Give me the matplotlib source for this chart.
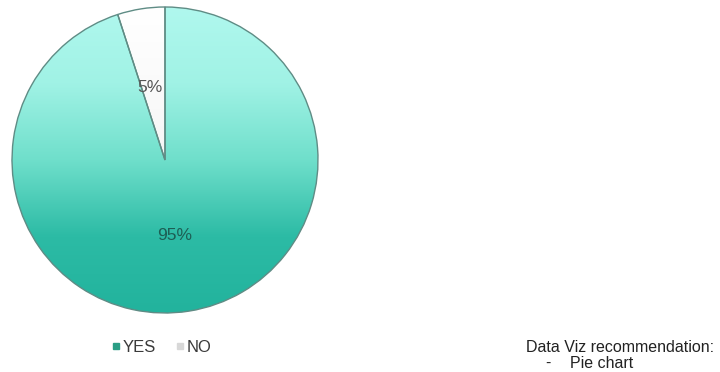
"""Survey answer share as a gradient-filled pie."""

import matplotlib

matplotlib.use("Agg", force=True)
import matplotlib.pyplot as plt
import numpy as np
from matplotlib.colors import LinearSegmentedColormap
from matplotlib.lines import Line2D

labels = ["YES", "NO"]
shares = [95, 5]
pct_labels = ["95%", "5%"]
note_title = "Data Viz recommendation:"
note_items = ["Pie chart"]

plt.rcParams["font.family"] = ["Liberation Sans", "DejaVu Sans"]

fig = plt.figure(figsize=(7.2, 3.72), dpi=100)
ax = fig.add_axes([0, 0, 1, 1])

cx, cy, r = 165, 212, 153
wedges, _ = ax.pie(
    shares,
    startangle=90,
    counterclock=False,
    center=(cx, cy),
    radius=r,
    frame=True,
    wedgeprops=dict(edgecolor="#5f8c85", linewidth=1.0),
)
ax.set_xlim(0, 720)
ax.set_ylim(0, 372)
ax.set_aspect("equal")
ax.axis("off")

# vertical gradients clipped to each wedge
grad = np.linspace(0, 1, 256).reshape(-1, 1)
fills = [
    LinearSegmentedColormap.from_list("yes", ["#b0f8ee", "#a0f2e5", "#6fdfcb", "#2cbba5", "#22b39d"]),
    LinearSegmentedColormap.from_list("no", ["#ffffff", "#f6f6f6", "#e8e8e8"]),
]
ext = (cx - r, cx + r, cy - r, cy + r)
for w, cmap in zip(wedges, fills):
    w.set_facecolor("none")
    im = ax.imshow(grad, cmap=cmap, extent=ext, origin="upper", aspect="auto", zorder=0.5)
    im.set_clip_path(w)
    w.set_zorder(1)

ax.text(175, 372 - 235, pct_labels[0], ha="center", va="center",
        fontsize=12.5, color="#1d5e54", zorder=3)
ax.text(150, 372 - 87, pct_labels[1], ha="center", va="center",
        fontsize=12.5, color="#555555", zorder=3)

handles = [Line2D([], [], ls="none", marker="s", markersize=4.5, color="#2a9e85"),
           Line2D([], [], ls="none", marker="s", markersize=4.5, color="#d8d8d8")]
ax.legend(handles, labels, loc="center", bbox_to_anchor=(162 / 720, 1 - 347 / 372),
          ncol=2, frameon=False, fontsize=12, handlelength=0.5,
          handletextpad=0.15, columnspacing=1.2, labelcolor="#3a3a3a")

ax.text(526, 372 - 348, note_title, ha="left", va="center", fontsize=11.5, color="#222222")
for i, item in enumerate(note_items):
    y = 372 - 363 - 15 * i
    ax.text(545, y, "-", ha="left", va="center", fontsize=11.5, color="#222222")
    ax.text(570, y, item, ha="left", va="center", fontsize=11.5, color="#222222")

fig.savefig("out.png", dpi=100, facecolor="white")
